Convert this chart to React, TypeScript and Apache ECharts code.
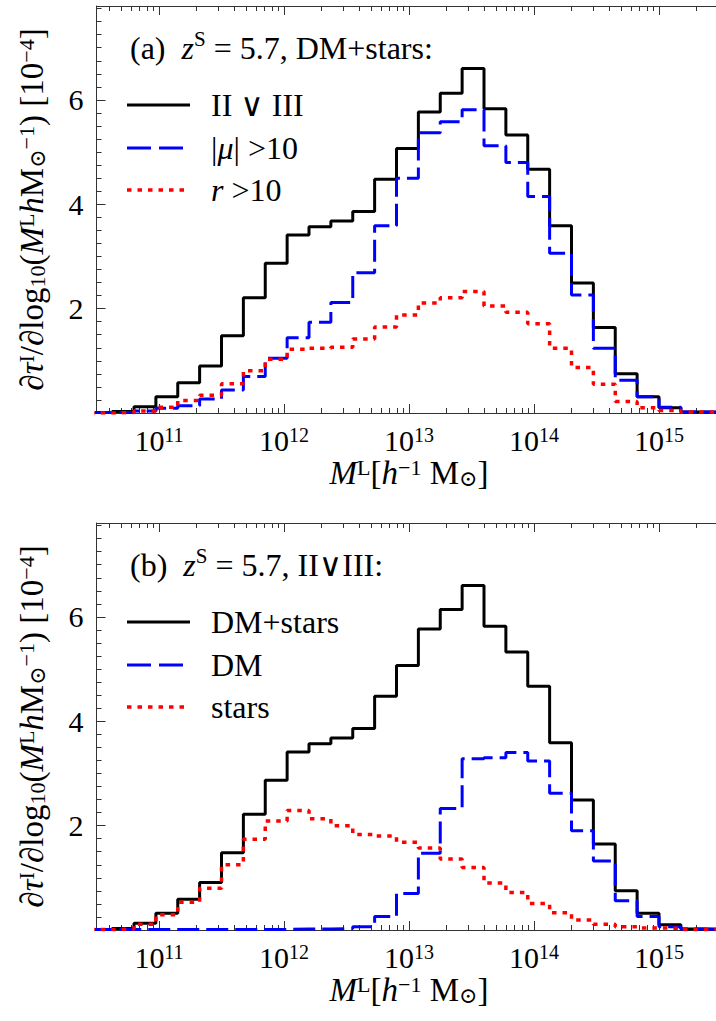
import React, { useEffect, useRef } from "react";
import * as echarts from "echarts";

// Histogram bin edges in log10(M^L / h^-1 Msun)
const binEdges = [
  10.45, 10.625, 10.8, 10.975, 11.15, 11.325, 11.5, 11.675, 11.85, 12.025,
  12.2, 12.375, 12.55, 12.725, 12.9, 13.075, 13.25, 13.425, 13.6, 13.775,
  13.95, 14.125, 14.3, 14.475, 14.65, 14.825, 15.0, 15.175, 15.35, 15.525,
];

// Panel (a): DM+stars
const aIIorIII = [
  0.01, 0.03, 0.12, 0.31, 0.58, 0.9, 1.48, 2.21, 2.87, 3.41, 3.57, 3.68, 3.86, 4.48, 5.07,
  5.77, 6.13, 6.6, 5.83, 5.33, 4.67, 3.59, 2.49, 1.64, 0.75, 0.31, 0.1, 0.02, 0.01,
];
const aMuAbove10 = [
  0.01, 0.01, 0.04, 0.09, 0.14, 0.27, 0.44, 0.7, 1.05, 1.44, 1.74, 2.12, 2.69, 3.59, 4.5,
  5.37, 5.58, 5.81, 5.12, 4.8, 4.15, 3.06, 2.26, 1.24, 0.63, 0.31, 0.11, 0.02, 0.02,
];
const aRAbove10 = [
  0.0, 0.01, 0.04, 0.11, 0.24, 0.34, 0.56, 0.81, 1.03, 1.22, 1.24, 1.26, 1.42, 1.65, 1.88,
  2.11, 2.21, 2.33, 2.05, 1.93, 1.71, 1.24, 0.87, 0.55, 0.22, 0.1, 0.05, 0.02, 0.01,
];

// Panel (b): II v III
const bDMplusStars = [
  0.01, 0.03, 0.13, 0.32, 0.59, 0.91, 1.48, 2.22, 2.87, 3.41, 3.57, 3.68, 3.86, 4.48, 5.07,
  5.77, 6.14, 6.6, 5.82, 5.33, 4.67, 3.59, 2.49, 1.65, 0.75, 0.32, 0.1, 0.02, 0.01,
];
const bDM = [
  0.01, 0.01, 0.01, 0.01, 0.01, 0.01, 0.01, 0.01, 0.01, 0.02, 0.02, 0.03, 0.06, 0.26, 0.7,
  1.47, 2.33, 3.28, 3.3, 3.4, 3.24, 2.62, 1.9, 1.32, 0.56, 0.26, 0.06, 0.02, 0.01,
];
const bStars = [
  0.01, 0.02, 0.11, 0.29, 0.53, 0.8, 1.25, 1.74, 2.09, 2.29, 2.13, 2.0, 1.83, 1.8, 1.68,
  1.57, 1.36, 1.2, 0.9, 0.72, 0.51, 0.33, 0.19, 0.11, 0.06, 0.04, 0.03, 0.01, 0.01,
];

const xMajorTicks = [11, 12, 13, 14, 15];
const yLabelTicks = [2, 4, 6];
const X_MIN = 10.5;
const X_MAX = 15.5;
const Y_MAX = 7.8;

const xMinorTicks: number[] = [];
for (let d = 10; d <= 15; d++) {
  for (let m = 2; m <= 9; m++) {
    const v = d + Math.log10(m);
    if (v > X_MIN && v < X_MAX) xMinorTicks.push(v);
  }
}
const yMinorTicks: number[] = [];
for (let i = 1; i * 0.25 < Y_MAX; i++) yMinorTicks.push(i * 0.25);

const SERIF = "'Liberation Serif', 'DejaVu Serif', serif";
const AXIS_COLOR = "#333333";

function makeRich(fs: number, fsSmall: number, lh: number, lhSmall: number) {
  return {
    d: { fontFamily: SERIF, fontSize: fs, color: "#000", lineHeight: lh },
    it: { fontFamily: SERIF, fontSize: fs, fontStyle: "italic", color: "#000", lineHeight: lh },
    sup: { fontFamily: SERIF, fontSize: fsSmall, color: "#000", lineHeight: lhSmall, verticalAlign: "top" },
    sub: { fontFamily: SERIF, fontSize: fsSmall, color: "#000", lineHeight: lhSmall, verticalAlign: "bottom" },
  };
}
const richTick: any = makeRich(30, 20, 30, 14);
const richText: any = makeRich(32, 21, 40, 21);
const richName: any = makeRich(33, 22, 33, 14);

function stepData(values: number[]) {
  const pts: number[][] = values.map((v, i) => [binEdges[i], v]);
  pts.push([binEdges[values.length], values[values.length - 1]]);
  return pts;
}

const GRID_LEFT = 96.5;
const GRID_WIDTH = 625;
const GRID_HEIGHT = 407;
const GRID_TOPS = [6, 523];

function xAxesFor(gridIndex: number) {
  const base = { type: "value", gridIndex, min: X_MIN, max: X_MAX, splitLine: { show: false } };
  return [
    {
      ...base,
      position: "bottom",
      offset: 0,
      axisLine: { show: true, lineStyle: { color: AXIS_COLOR, width: 1 } },
      axisTick: { show: true, inside: true, length: 9, customValues: xMajorTicks, lineStyle: { color: AXIS_COLOR } },
      axisLabel: {
        show: true,
        margin: 12,
        customValues: xMajorTicks,
        formatter: (v: number) => "{d|10}{sup|" + Math.round(v) + "}",
        rich: richTick,
      },
      name: "{it|M}{sup|L}{d|[}{it|h}{sup|−1}{d| M}{sub|⊙}{d|]}",
      nameLocation: "middle",
      nameGap: 43,
      nameMoveOverlap: false,
      nameTextStyle: { rich: richName },
    },
    {
      ...base,
      position: "bottom",
      offset: 0,
      axisLine: { show: false },
      axisTick: { show: true, inside: true, length: 5, customValues: xMinorTicks, lineStyle: { color: AXIS_COLOR } },
      axisLabel: { show: false },
    },
    {
      ...base,
      position: "top",
      offset: 0,
      axisLine: { show: true, lineStyle: { color: AXIS_COLOR, width: 1 } },
      axisTick: { show: true, inside: true, length: 9, customValues: xMajorTicks, lineStyle: { color: AXIS_COLOR } },
      axisLabel: { show: false },
    },
    {
      ...base,
      position: "top",
      offset: 0,
      axisLine: { show: false },
      axisTick: { show: true, inside: true, length: 5, customValues: xMinorTicks, lineStyle: { color: AXIS_COLOR } },
      axisLabel: { show: false },
    },
  ];
}

function yAxesFor(gridIndex: number) {
  const base = { type: "value", gridIndex, min: 0, max: Y_MAX, splitLine: { show: false } };
  return [
    {
      ...base,
      position: "left",
      offset: 0,
      axisLine: { show: true, lineStyle: { color: AXIS_COLOR, width: 1 } },
      axisTick: { show: true, inside: true, length: 9, customValues: yLabelTicks, lineStyle: { color: AXIS_COLOR } },
      axisLabel: {
        show: true,
        margin: 13,
        customValues: yLabelTicks,
        fontFamily: SERIF,
        fontSize: 30,
        color: "#000",
      },
      name:
        "{d|∂}{it|τ}{sup|I}{d|/∂log}{sub|10}{d|(}{it|M}{sup|L}{it|h}{d|M}{sub|⊙}{sup|−1}{d|) [10}{sup|−4}{d|]}",
      nameLocation: "middle",
      nameRotate: 90,
      nameGap: 48,
      nameMoveOverlap: false,
      nameTextStyle: { rich: richName },
    },
    {
      ...base,
      position: "left",
      offset: 0,
      axisLine: { show: false },
      axisTick: { show: true, inside: true, length: 5, customValues: yMinorTicks, lineStyle: { color: AXIS_COLOR } },
      axisLabel: { show: false },
    },
  ];
}

function series(values: number[], gridIndex: number, kind: "solid" | "dash" | "dot") {
  const style =
    kind === "solid"
      ? { color: "#000000", width: 3, type: "solid" as any }
      : kind === "dash"
      ? { color: "#0000ff", width: 3, type: [22, 7] as any }
      : { color: "#ff0000", width: 3.5, type: [4.5, 6] as any };
  return {
    type: "line",
    xAxisIndex: gridIndex * 4,
    yAxisIndex: gridIndex * 2,
    step: "end",
    data: stepData(values),
    showSymbol: false,
    symbol: "none",
    clip: true,
    lineStyle: style,
    itemStyle: { color: style.color },
    z: kind === "solid" ? 2 : kind === "dash" ? 3 : 4,
  };
}

function legendGraphics(offsetY: number, title: string, labels: string[]) {
  const rows = [105, 148, 190];
  const strokes = [
    { stroke: "#000", lineWidth: 3 },
    { stroke: "#0000ff", lineWidth: 3, lineDash: [24, 8] },
    { stroke: "#ff0000", lineWidth: 3.5, lineDash: [4.5, 6] },
  ];
  const els: any[] = [
    {
      type: "text",
      x: 130,
      y: 48 + offsetY,
      style: { text: title, rich: richText, verticalAlign: "middle", align: "left" },
    },
  ];
  rows.forEach((ry, i) => {
    els.push({
      type: "line",
      shape: { x1: 127, y1: ry + offsetY, x2: 190, y2: ry + offsetY },
      style: strokes[i],
    });
    els.push({
      type: "text",
      x: 211,
      y: ry + offsetY,
      style: { text: labels[i], rich: richText, verticalAlign: "middle", align: "left" },
    });
  });
  return els;
}

export default function App() {
  const ref = useRef<HTMLDivElement>(null);
  useEffect(() => {
    if (!ref.current) return;
    const chart = echarts.init(ref.current, null, { renderer: "svg" });
    const option: any = {
      animation: false,
      backgroundColor: "#ffffff",
      textStyle: { fontFamily: SERIF },
      grid: GRID_TOPS.map((t) => ({ left: GRID_LEFT, top: t, width: GRID_WIDTH, height: GRID_HEIGHT })),
      xAxis: [...xAxesFor(0), ...xAxesFor(1)],
      yAxis: [...yAxesFor(0), ...yAxesFor(1)],
      series: [
        series(aIIorIII, 0, "solid"),
        series(aMuAbove10, 0, "dash"),
        series(aRAbove10, 0, "dot"),
        series(bDMplusStars, 1, "solid"),
        series(bDM, 1, "dash"),
        series(bStars, 1, "dot"),
      ],
      graphic: [
        ...legendGraphics(0, "{d|(a)  }{it|z}{sup|S}{d| = 5.7, DM+stars:}", [
          "{d|II ∨ III}",
          "{d||}{it|μ}{d|| >10}",
          "{it|r}{d| >10}",
        ]),
        ...legendGraphics(517, "{d|(b)  }{it|z}{sup|S}{d| = 5.7, II∨III:}", [
          "{d|DM+stars}",
          "{d|DM}",
          "{d|stars}",
        ]),
      ],
    };
    chart.setOption(option);
    return () => chart.dispose();
  }, []);
  return (
    <div
      style={{
        position: "absolute",
        left: 0,
        top: 0,
        width: 716,
        height: 1021,
        overflow: "hidden",
        background: "#fff",
      }}
    >
      <div ref={ref} style={{ width: 722, height: 1021 }} />
    </div>
  );
}
